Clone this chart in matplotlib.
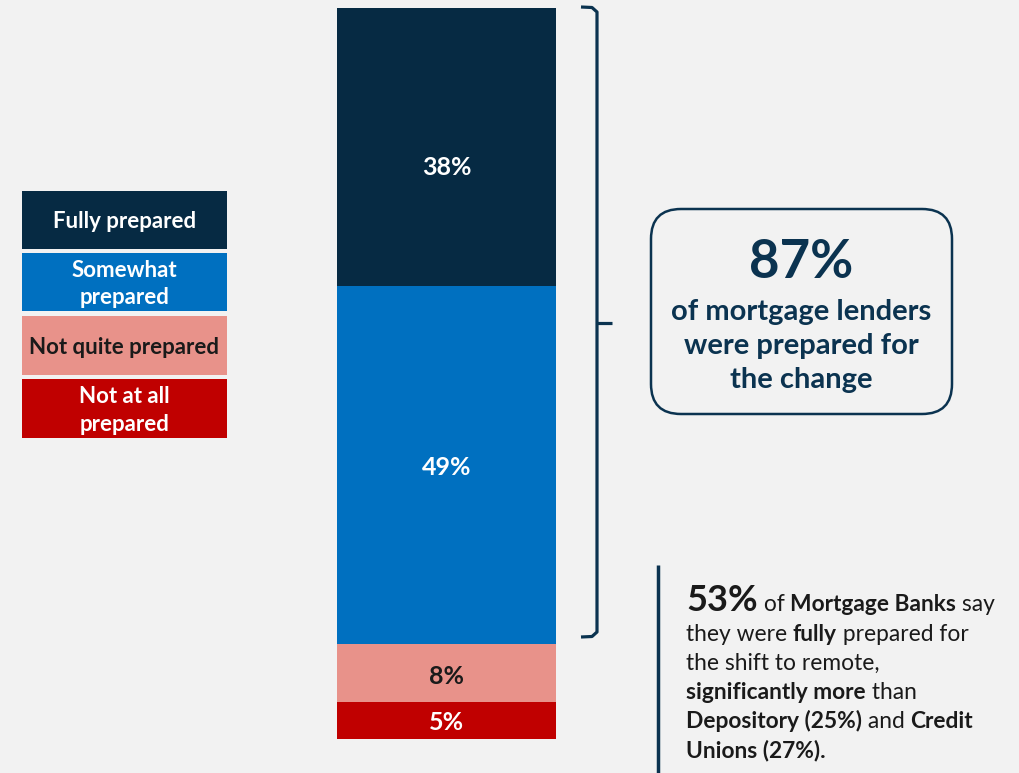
import matplotlib.pyplot as plt
from matplotlib.patches import FancyBboxPatch, Rectangle

# stacked from the bottom up
categories = ["Not at all\nprepared", "Not quite prepared", "Somewhat\nprepared", "Fully prepared"]
values = [5, 8, 49, 38]
colors = ["#c00000", "#e8928a", "#0070c0", "#062a43"]
label_colors = ["white", "#1a1a1a", "white", "white"]
# nudge for the value labels, in percent units
label_nudge = [-0.2, -0.4, -0.3, -2.8]

callout_text = "of mortgage lenders\nwere prepared for\nthe change"

# side note, one list of (text, bold, size) runs per line
note_lines = [
    [("53%", True, 26), (" of ", False, 16.4), ("Mortgage Banks", True, 16.4), (" say", False, 16.4)],
    [("they were ", False, 16.4), ("fully", True, 16.4), (" prepared for", False, 16.4)],
    [("the shift to remote,", False, 16.4)],
    [("significantly more", True, 16.4), (" than", False, 16.4)],
    [("Depository (25%)", True, 16.4), (" and ", False, 16.4), ("Credit", True, 16.4)],
    [("Unions (27%).", True, 16.4)],
]

NAVY = "#0b3350"
BG = "#f2f2f2"
plt.rcParams['font.family'] = ['Lato', 'DejaVu Sans']

W, H = 1020, 773
fig = plt.figure(figsize=(W / 100, H / 100), dpi=100, facecolor=BG)

# the bar itself, in percent units
bar_left, bar_right, bar_top, bar_bottom = 337, 556, 8, 739
ax = fig.add_axes([bar_left / W, 1 - bar_bottom / H, (bar_right - bar_left) / W, (bar_bottom - bar_top) / H])
ax.set_xlim(0, 1)
ax.set_ylim(0, sum(values))
ax.axis("off")
bottom = 0
for v, c, lc, dy in zip(values, colors, label_colors, label_nudge):
    ax.bar(0.5, v, width=1, bottom=bottom, color=c, linewidth=0)
    ax.text(0.5, bottom + v / 2 + dy, f"{v}%", ha="center", va="center",
            color=lc, fontsize=18, fontweight="bold")
    bottom += v

# overlay in pixel coordinates for legend, bracket and notes
ov = fig.add_axes([0, 0, 1, 1], facecolor="none")
ov.set_xlim(0, W)
ov.set_ylim(H, 0)
ov.axis("off")

# legend boxes, top to bottom
leg_rows = [(191, 249), (253, 311), (316, 375), (379, 438)]
for (y0, y1), cat, c, lc in zip(leg_rows, categories[::-1], colors[::-1], label_colors[::-1]):
    ov.add_patch(Rectangle((22, y0), 205, y1 - y0, color=c, linewidth=0))
    ov.text(124.5, (y0 + y1) / 2 + 2, cat, ha="center", va="center", color=lc,
            fontsize=16, fontweight="bold", linespacing=1.4)

# bracket around the prepared share
ov.plot([581, 592, 597, 597, 592, 581], [7, 7.5, 12, 632, 636.5, 637],
        color=NAVY, lw=2.3, solid_joinstyle="round", solid_capstyle="butt")
ov.plot([597, 612], [323, 323], color=NAVY, lw=2.3, solid_capstyle="butt")

# callout box
ov.add_patch(FancyBboxPatch((651, 209), 301, 205, boxstyle="round,pad=0,rounding_size=30",
                            facecolor="none", edgecolor=NAVY, lw=1.8))
prepared = values[2] + values[3]
ov.text(801, 263, f"{prepared}%", ha="center", va="center", color=NAVY,
        fontsize=38, fontweight="bold")
ov.text(801, 346, callout_text, ha="center", va="center", color=NAVY,
        fontsize=21, fontweight="bold", linespacing=1.36)

# side note with its rule
ov.plot([658, 658], [565, 773], color=NAVY, lw=2.5, solid_capstyle="butt")
renderer = fig.canvas.get_renderer()
baselines = [611, 641, 670, 699, 728, 757]
for line, yb in zip(note_lines, baselines):
    x = 686
    for txt, bold, size in line:
        t = ov.text(x, yb, txt, ha="left", va="baseline", color="#1a1a1a",
                    fontsize=size, fontweight="bold" if bold else "normal")
        bb = t.get_window_extent(renderer)
        x += bb.width

fig.savefig("out.png", dpi=100, facecolor=BG)
